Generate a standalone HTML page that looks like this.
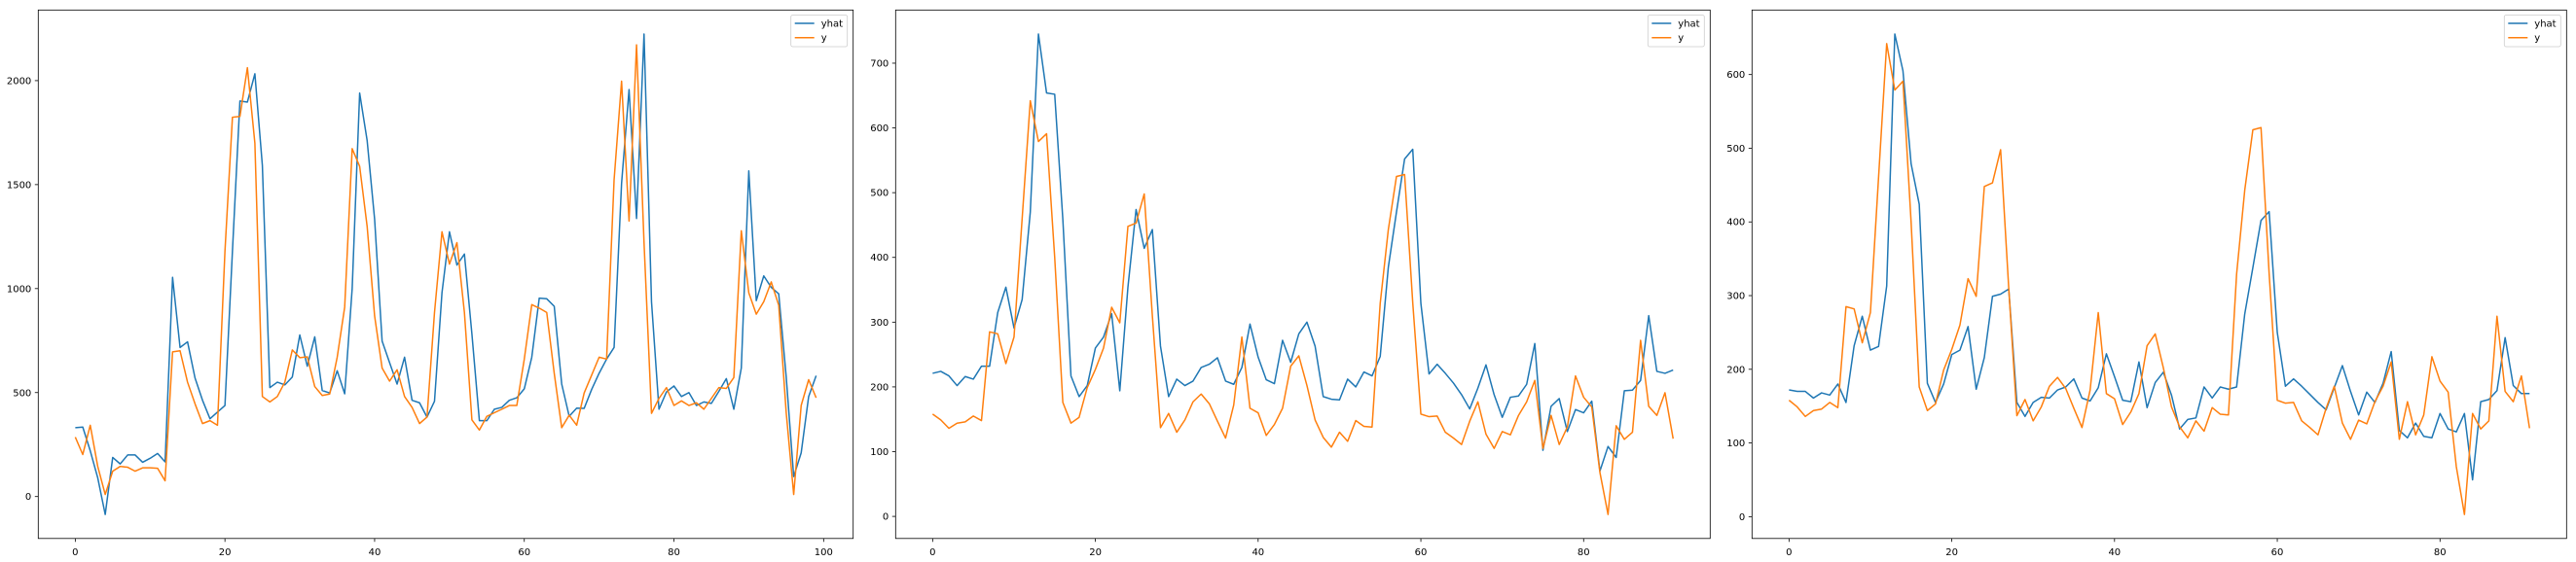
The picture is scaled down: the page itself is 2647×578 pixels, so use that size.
<!DOCTYPE html>
<html><head><meta charset="utf-8"><style>
html,body{margin:0;padding:0;background:#fff;}
svg{display:block;font-family:"DejaVu Sans","Liberation Sans",sans-serif;}
</style></head><body>
<svg id="chart" width="2647" height="578" viewBox="0 0 2647 578" xmlns="http://www.w3.org/2000/svg"></svg>
<script>
const p1Yhat=[331,334,220,90,-86,188,157,200,200,165,184,207,167,1054,717,744,570,463,374,406,438,1180,1902,1897,2033,1592,524,550,537,575,777,627,768,510,498,605,494,1000,1940,1712,1333,748,644,541,670,463,451,382,458,980,1273,1113,1166,782,365,365,420,429,463,475,518,670,954,951,915,541,386,425,424,515,593,661,717,1506,1957,1337,2224,937,420,503,532,481,500,438,455,448,506,567,420,618,1566,942,1061,1006,975,575,96,210,481,581];
const p1Y=[286,202,343,145,10,122,145,141,122,138,138,136,76,696,701,550,446,351,365,343,1180,1824,1828,2062,1699,481,455,481,550,705,668,672,529,486,493,670,911,1673,1588,1299,868,618,555,610,481,429,351,382,885,1273,1118,1221,885,369,320,386,403,420,438,438,661,923,906,885,593,331,391,343,498,584,670,661,1523,1997,1325,2172,1221,400,472,524,438,460,438,451,420,472,524,520,572,1278,980,877,937,1032,920,403,10,438,562,475];
const p2Yhat=[221,224,217,202,216,212,232,232,315,354,291,335,470,745,654,652,459,217,185,202,260,277,313,194,354,474,414,443,263,185,212,202,209,230,235,245,209,204,230,297,246,211,205,272,238,282,300,263,185,181,180,212,200,223,217,247,385,470,552,567,329,220,235,221,206,188,166,198,234,188,153,184,186,204,267,102,170,182,131,165,160,178,70,108,91,194,195,210,310,224,221,226];
const sharedY=[158,149,136,144,146,155,148,285,282,236,277,460,642,579,591,400,176,144,153,199,227,260,323,299,448,453,498,310,137,159,130,149,177,189,174,147,121,172,277,167,160,125,142,167,232,248,202,149,122,107,130,116,148,139,138,329,443,525,528,330,158,154,155,130,121,111,147,177,127,105,131,126,156,177,210,105,156,111,138,217,184,169,68,3,140,119,130,272,170,156,191,120];
const p3Yhat=[172,170,170,161,168,165,180,155,232,272,226,231,313,655,605,479,424,181,155,180,220,226,258,173,216,299,302,309,155,136,155,162,161,172,176,187,161,157,175,221,190,158,156,210,148,182,196,165,119,132,134,176,161,176,173,176,275,338,402,414,250,177,187,177,166,155,145,175,205,170,138,169,155,181,224,117,107,127,109,107,140,119,115,140,50,156,159,171,243,178,167,167];
const p1YTicks=[0,500,1000,1500,2000];
const p2YTicks=[0,100,200,300,400,500,600,700];
const p3YTicks=[0,100,200,300,400,500,600];
const p1XTicks=[0,20,40,60,80,100];
const p23XTicks=[0,20,40,60,80];

const svg=document.getElementById('chart');
const NS='http://www.w3.org/2000/svg';
function mk(tag,attrs,parent){const e=document.createElementNS(NS,tag);for(const k in attrs)e.setAttribute(k,attrs[k]);parent.appendChild(e);return e;}

function panel(idx,L,R,yhat,y,yTicks,xTicks){
  const T=10.3,B=553.8;
  const g=mk('g',{},svg);
  
  
  const n=Math.max(yhat.length,y.length);
  const xmin=-0.05*(n-1),xmax=(n-1)*1.05;
  const all=yhat.concat(y);
  const dmin=Math.min(...all),dmax=Math.max(...all),m=(dmax-dmin)*0.05;
  const ymin=dmin-m,ymax=dmax+m;
  const sx=v=>L+(v-xmin)/(xmax-xmin)*(R-L);
  const sy=v=>B-(v-ymin)/(ymax-ymin)*(B-T);
  yTicks.forEach(t=>{
    const yy=sy(t);
    const tk=mk('line',{x1:L-3.5,x2:L,y1:yy,y2:yy,stroke:'#000','stroke-width':0.8},g);
    
    
    const tx=mk('text',{x:L-7,y:yy+3.5,'text-anchor':'end','font-size':10,fill:'#000'},g);
    
    
    tx.textContent=t;
  });
  xTicks.forEach(t=>{
    const xx=sx(t);
    const tk=mk('line',{x1:xx,x2:xx,y1:B,y2:B+3.5,stroke:'#000','stroke-width':0.8},g);
    
    
    const tx=mk('text',{x:xx,y:B+17,'text-anchor':'middle','font-size':10,fill:'#000'},g);
    
    
    tx.textContent=t;
  });
  const pts=a=>a.map((v,i)=>sx(i).toFixed(2)+','+sy(v).toFixed(2)).join(' ');
  const l1=mk('polyline',{points:pts(yhat),fill:'none',stroke:'#1f77b4','stroke-width':1.5,'stroke-linejoin':'round'},g);
  
  
  const l2=mk('polyline',{points:pts(y),fill:'none',stroke:'#ff7f0e','stroke-width':1.5,'stroke-linejoin':'round'},g);
  
  
  const fr=mk('rect',{x:L,y:T,width:R-L,height:B-T,fill:'none',stroke:'#000','stroke-width':0.8},g);
  
  
  // legend
  const lg=mk('g',{},g);
  
  
  const lx=R-64;
  mk('rect',{x:lx,y:15.5,width:58,height:32.5,rx:2,fill:'#fff','fill-opacity':0.8,stroke:'#ccc','stroke-width':0.8},lg);
  [['yhat','#1f77b4',24],['y','#ff7f0e',38.7]].forEach(([lab,c,yy])=>{
    const e=mk('g',{},lg);
    
    
    mk('line',{x1:lx+4,x2:lx+24,y1:yy,y2:yy,stroke:c,'stroke-width':1.5},e);
    const t=mk('text',{x:lx+31,y:yy+3.5,'font-size':10,fill:'#000'},e);
    t.textContent=lab;
  });
}
panel(1,39.3,876.7,p1Yhat,p1Y,p1YTicks,p1XTicks);
panel(2,920.3,1757.3,p2Yhat,sharedY,p2YTicks,p23XTicks);
panel(3,1800.3,2637.3,p3Yhat,sharedY,p3YTicks,p23XTicks);
</script>
</body></html>
